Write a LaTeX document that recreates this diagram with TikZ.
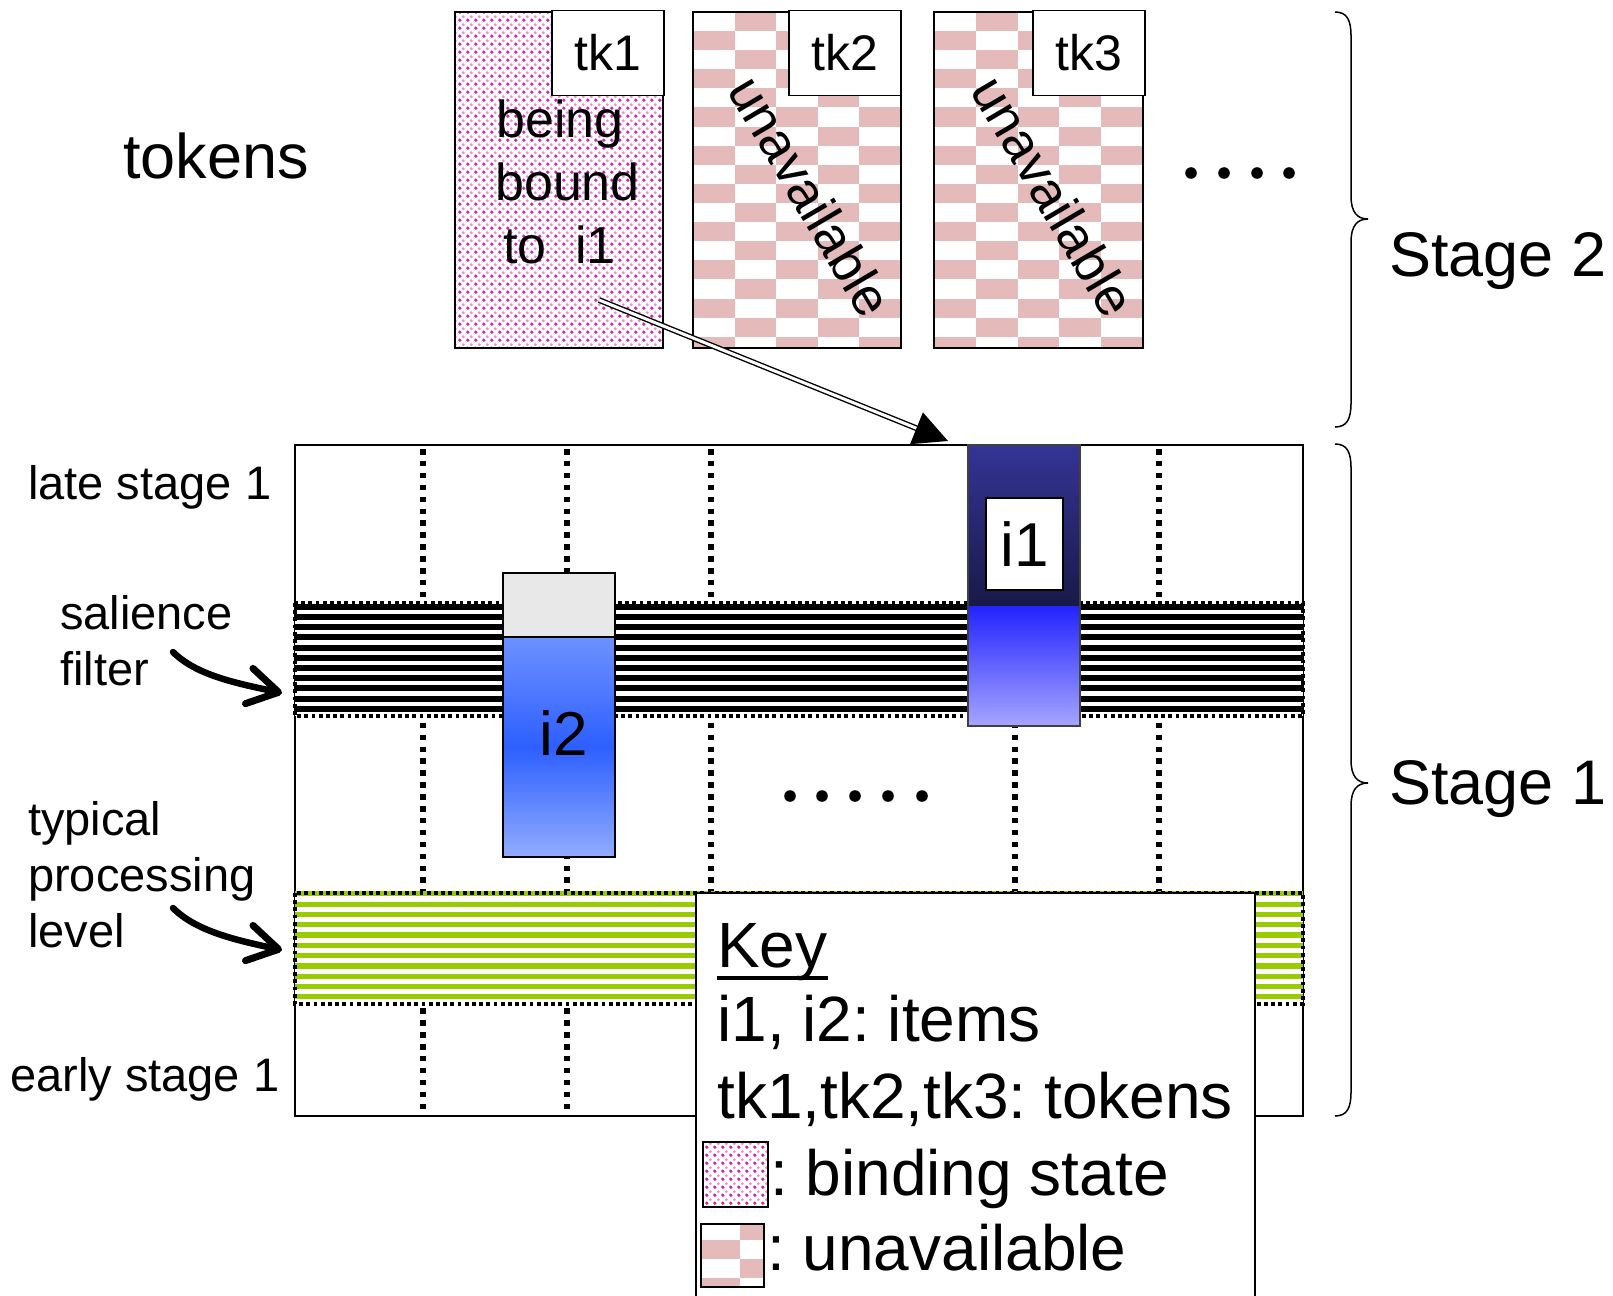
\documentclass[tikz,border=0pt]{standalone}
\usepackage{fontspec}
\setmainfont{Liberation Sans}
\usetikzlibrary{arrows.meta,patterns.meta}
\definecolor{chk}{RGB}{228,186,186}
\definecolor{dotA}{RGB}{218,25,182}
\definecolor{dotB}{RGB}{238,140,215}
\definecolor{lgreen}{RGB}{153,204,0}
\definecolor{ltgray}{RGB}{232,232,232}
\definecolor{itwotop}{RGB}{110,145,255}
\definecolor{itwomid}{RGB}{45,95,255}
\definecolor{itwobot}{RGB}{145,172,255}
\definecolor{ionedtop}{RGB}{52,52,150}
\definecolor{ionedbot}{RGB}{25,25,72}
\definecolor{ionebtop}{RGB}{35,35,255}
\definecolor{ionebbot}{RGB}{165,165,255}
\newcommand\fsz[1]{\fontsize{#1}{#1}\selectfont}
\frenchspacing
\tikzdeclarepattern{
  name=bindots,
  type=colored,
  bounding box={(0pt,0pt) and (7.5pt,7.5pt)},
  tile size={(7.5pt,7.5pt)},
  code={
    \fill[dotA] (1.9pt,1.9pt) circle[radius=1.9pt];
    \fill[dotB] (5.6pt,5.6pt) circle[radius=1.6pt];
  }
}
% origin x, origin y, cell w, clip x0, y0, x1, y1
\newcommand\chkboard[7]{%
  \begin{scope}
    \clip (#4,#5) rectangle (#6,#7);
    \foreach \cc in {0,...,5}{
      \foreach \rr in {0,...,18}{
        \pgfmathtruncatemacro\chkodd{mod(\cc+\rr,2)}
        \ifnum\chkodd=1
          \fill[chk] ({#1+\cc*#3},{#2+\rr*19.1}) rectangle ++(#3,19.1);
        \fi
      }
    }
  \end{scope}}
\begin{document}
\begin{tikzpicture}[x=1pt,y=-1pt,
  thinbox/.style={draw=black, line width=1.6pt},
  gridv/.style={line width=5.5pt, dash pattern=on 5.5pt off 6.4pt},
  bandedge/.style={line width=3.8pt, dash pattern=on 3.8pt off 3.4pt},
  lbl/.style={inner sep=0pt, anchor=base west, font=\fsz{47}},
  big/.style={inner sep=0pt, anchor=base west, font=\fsz{63}},
  keytxt/.style={inner sep=0pt, anchor=base west, font=\fsz{64}},
  tktxt/.style={inner sep=0pt, anchor=base west, font=\fsz{52}},
  tklabel/.style={draw=black, line width=1.6pt, fill=white, minimum width=112pt, minimum height=85pt, inner sep=0pt, font=\fsz{50}},
  curvarrow/.style={line width=6.5pt, line cap=round, -{Straight Barb[length=30pt,width=36pt,line width=7pt,round]}},
  bigdot/.style={fill=black}
]
\useasboundingbox (0,0) rectangle (1613,1295);
\clip (0,0) rectangle (1613,1295);

% ---------- tokens ----------
\node[big] (tokens) at (123,178) {tokens};

% tk1
\fill[white] (455,12) rectangle (663,348);
\fill[pattern=bindots] (455,12) rectangle (663,348);
\draw[thinbox] (455,12) rectangle (663,348);
\node[tktxt] (beingA) at (496,137) {being};
\node[tktxt] (beingB) at (495,200) {bound};
\node[tktxt] (beingC) at (503,263) {to\ \ i1};
\node[tklabel] (tkone) at (608,53) {tk1};

% tk2
\fill[white] (693,12) rectangle (901,348);
\chkboard{693}{12}{41.6}{693}{12}{901}{348}
\draw[thinbox] (693,12) rectangle (901,348);
\node[inner sep=0pt, font=\fsz{53}, rotate=-59.5] (unavA) at (811,196) {unavailable};
\node[tklabel] (tktwo) at (845,53) {tk2};

% tk3
\fill[white] (934,12) rectangle (1143,348);
\chkboard{934}{12}{41.8}{934}{12}{1143}{348}
\draw[thinbox] (934,12) rectangle (1143,348);
\node[inner sep=0pt, font=\fsz{53}, rotate=-59.5] (unavB) at (1054,196) {unavailable};
\node[tklabel] (tkthree) at (1089,53) {tk3};

% top dots
\foreach \x in {1191,1224,1257,1289} \fill[bigdot] (\x,173) circle[radius=5.8];

% ---------- grid ----------
\draw[thinbox, fill=white] (295,445) rectangle (1303,1116);
\foreach \x in {423,567,711,1015,1159} \draw[gridv] (\x,449) -- (\x,1116);

% salience band
\fill[white] (295,603) rectangle (1303,716);
\foreach \k in {0,...,10} \fill[black] (295,{603.8+10.2*\k}) rectangle (1303,{609.8+10.2*\k});
\draw[bandedge] (295,603) rectangle (1303,716);
\coordinate (salband) at (282,693);

% green band
\fill[white] (295,893) rectangle (1303,1004);
\foreach \k in {0,...,10} \fill[lgreen] (295,{891.2+10.3*\k}) rectangle (1303,{896.4+10.3*\k});
\draw[bandedge] (295,893) rectangle (1303,1004);
\coordinate (grnband) at (282,950);

% i2
\fill[ltgray] (503,573) rectangle (615,637);
\shade[top color=itwotop, bottom color=itwobot, middle color=itwomid] (503,637) rectangle (615,857);
\draw[thinbox] (503,573) rectangle (615,857);
\draw[thinbox] (503,637) -- (615,637);
\node[inner sep=0pt, font=\fsz{62}] (i2) at (564,733) {i2};

% i1
\shade[top color=ionedtop, bottom color=ionedbot] (968,445) rectangle (1080,606);
\shade[top color=ionebtop, bottom color=ionebbot] (968,606) rectangle (1080,726);
\draw[line width=1.2pt, draw=black!75] (968,445) rectangle (1080,726);
\node[draw=black, line width=1.8pt, fill=white, minimum width=77pt, minimum height=92pt, inner sep=0pt, font=\fsz{62}] (i1) at (1024.5,544) {i1};

% binding arrow
\coordinate (bindsrc) at (599,300);
\coordinate (bindtip) at (948,441);
\draw[line width=1.4pt, double distance=3pt, -{Triangle[length=34pt,width=34pt]}] (bindsrc) -- (bindtip);

% middle dots
\foreach \x in {790,822,855,888,922} \fill[bigdot] (\x,796) circle[radius=5.8];

% ---------- key ----------
\draw[thinbox, fill=white] (696,893) rectangle (1255,1330);
\node[keytxt] (keyhead) at (717,967) {Key};
\draw[line width=3.5pt] (717,978) -- (828,978);
\node[keytxt] (keyA) at (717,1041) {i1, i2: items};
\node[keytxt] (keyB) at (717,1118) {tk1,tk2,tk3: tokens};
\fill[white] (703,1142) rectangle (768,1207);
\fill[pattern=bindots] (703,1142) rectangle (768,1207);
\draw[line width=1.4pt] (703,1142) rectangle (768,1207);
\node[keytxt] (keyC) at (770,1195) {: binding state};
\fill[white] (701,1224) rectangle (764,1287);
\chkboard{701}{1221}{39}{701}{1224}{764}{1287}
\draw[line width=1.4pt] (701,1224) rectangle (764,1287);
\node[keytxt] (keyD) at (767,1270) {: unavailable};

% ---------- left labels ----------
\node[lbl] (late) at (28,499) {late stage 1};
\node[lbl] (salA) at (60,629) {salience};
\node[lbl] (salB) at (60,685) {filter};
\node[lbl] (typA) at (28,835) {typical};
\node[lbl] (typB) at (28,891) {processing};
\node[lbl] (typC) at (28,947) {level};
\node[lbl] (early) at (10,1091) {early stage 1};
\coordinate (salstart) at (173,652);
\coordinate (grnstart) at (173,908);
\draw[curvarrow] (salstart) .. controls (196,675) and (235,683) .. (salband);
\draw[curvarrow] (grnstart) .. controls (196,931) and (235,940) .. (grnband);

% ---------- braces ----------
\draw[line width=1.5pt] (1335,12) .. controls (1347,12) and (1351,20) .. (1351,36) -- (1351,196)
  .. controls (1351,212) and (1357,219) .. (1368,219)
  .. controls (1357,219) and (1351,226) .. (1351,242) -- (1351,403)
  .. controls (1351,419) and (1347,427) .. (1335,427);
\draw[line width=1.5pt] (1335,444) .. controls (1347,444) and (1351,452) .. (1351,468) -- (1351,760)
  .. controls (1351,776) and (1357,783) .. (1368,783)
  .. controls (1357,783) and (1351,790) .. (1351,806) -- (1351,1092)
  .. controls (1351,1108) and (1347,1116) .. (1335,1116);
\node[big] (stageB) at (1389,276) {Stage 2};
\node[big] (stageA) at (1389,804) {Stage 1};
\end{tikzpicture}
\end{document}
